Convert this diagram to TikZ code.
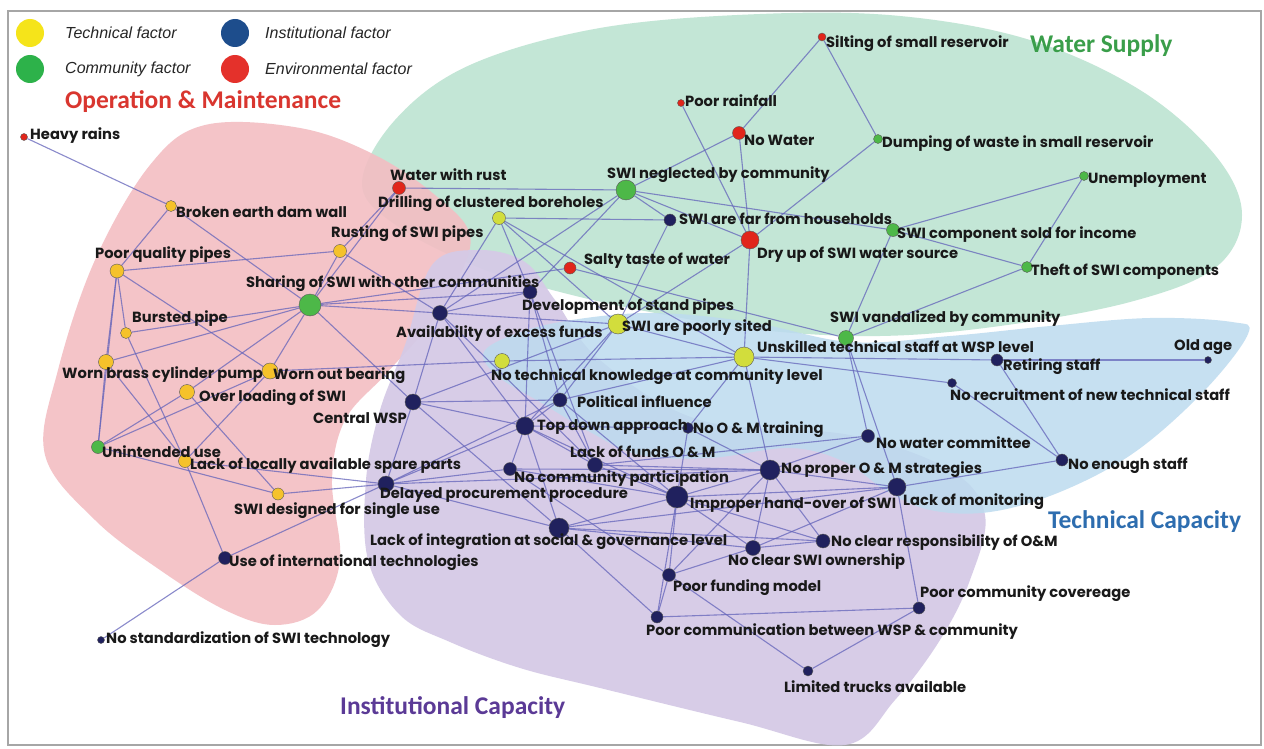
\documentclass[tikz,border=0pt]{standalone}
\usepackage{fontspec}
\setmainfont{Poppins}
\newfontfamily\legendfont{Liberation Sans}
\newfontfamily\titlefont{Carlito}
\definecolor{cyel}{HTML}{F5C22B}
\definecolor{clim}{HTML}{D2DD3C}
\definecolor{cgrn}{HTML}{4DB848}
\definecolor{cred}{HTML}{E1251B}
\definecolor{cnav}{HTML}{20215E}
\definecolor{cedge}{HTML}{6464BA}
\definecolor{rmint}{HTML}{C3E6D6}
\definecolor{rpink}{HTML}{F3BEC3}
\definecolor{rpurp}{HTML}{D5CAE6}
\definecolor{rblue}{HTML}{BDDBEF}
\definecolor{lyel}{HTML}{F5E41A}
\definecolor{lgrn}{HTML}{2DB24A}
\definecolor{lblu}{HTML}{1D4D8C}
\definecolor{lred}{HTML}{E4312B}
\definecolor{tred}{HTML}{D9362F}
\definecolor{tgrn}{HTML}{3A9E4A}
\definecolor{tblu}{HTML}{2D6DAF}
\definecolor{tpur}{HTML}{5B3A96}
\pgfdeclarelayer{bglayer}
\pgfdeclarelayer{edgelayer}
\pgfsetlayers{bglayer,edgelayer,main}
\tikzset{
  nd/.style={circle,inner sep=0pt,draw=black!65,line width=0.4pt},
  lbl/.style={anchor=west,inner sep=0pt,font=\fontsize{14.7}{15}\selectfont\bfseries,text=black!90},
  edge/.style={draw=cedge,line width=1.1pt,opacity=0.75},
  leg/.style={anchor=west,inner sep=0pt,font=\legendfont\itshape\fontsize{16}{18}\selectfont,text=black!85},
  ttl/.style={anchor=west,inner sep=0pt,font=\titlefont\bfseries\fontsize{25.5}{28}\selectfont},
  legdot/.style={circle,inner sep=0pt,minimum size=28pt}
}
\begin{document}
\begin{tikzpicture}[x=1pt,y=-1pt]
\useasboundingbox (0,0) rectangle (1264,749);
\begin{pgfonlayer}{bglayer}
\fill[white] (0,0) rectangle (1264,749);
\draw[gray!70,line width=1.2pt] (8,11) rectangle (1261,745);
\fill[rmint] plot[smooth cycle,tension=0.6] coordinates {(362,185) (395,120) (470,65) (600,28) (760,14) (900,16) (1030,40) (1140,90) (1215,155) (1242,215) (1215,268) (1130,302) (1000,326) (880,336) (760,330) (650,312) (560,292) (480,268) (400,228)};
\fill[rpink,opacity=0.9] plot[smooth cycle,tension=0.6] coordinates {(45,455) (58,370) (95,260) (150,165) (205,125) (300,128) (375,155) (435,195) (470,235) (455,285) (425,330) (385,375) (345,420) (332,480) (340,560) (318,610) (275,625) (225,610) (160,570) (95,520)};
\fill[rpurp,opacity=0.95] plot[smooth cycle,tension=0.6] coordinates {(432,265) (478,250) (525,262) (555,300) (600,360) (700,420) (850,435) (950,470) (985,515) (970,580) (940,640) (895,700) (845,745) (740,722) (600,688) (520,668) (450,642) (400,615) (368,560) (366,480) (380,410) (405,345)};
\fill[rblue,opacity=0.85] plot[smooth cycle,tension=0.6] coordinates {(483,355) (505,338) (560,322) (650,313) (750,322) (850,342) (950,336) (1050,326) (1150,318) (1232,322) (1248,334) (1205,390) (1135,452) (1060,492) (990,512) (930,510) (885,490) (845,462) (790,448) (710,458) (640,455) (590,432) (540,402) (500,378)};
\end{pgfonlayer}
% legend
\node[legdot,fill=lyel] (ly) at (30,33) {};
\node[leg] (lyt) at (65,33) {Technical factor};
\node[legdot,fill=lgrn] (lg) at (30,69) {};
\node[leg] (lgt) at (65,69) {Community factor};
\node[legdot,fill=lblu] (lb) at (235,33) {};
\node[leg] (lbt) at (265,33) {Institutional factor};
\node[legdot,fill=lred] (lr) at (235,69) {};
\node[leg] (lrt) at (265,69) {Environmental factor};
% titles
\node[ttl,text=tred] (t1) at (65,102) {Operation \& Maintenance};
\node[ttl,text=tgrn] (t2) at (1030,46) {Water Supply};
\node[ttl,text=tblu] (t3) at (1048,522) {Technical Capacity};
\node[ttl,text=tpur] (t4) at (340,708) {Institutional Capacity};
% nodes
\node[nd,fill=cred,minimum size=7pt] (hr) at (24,137) {};
\node[nd,fill=cyel,minimum size=11pt] (bdw) at (171,206) {};
\node[nd,fill=cred,minimum size=13pt] (wwr) at (399,188) {};
\node[nd,fill=clim,minimum size=13pt] (dcb) at (499,218) {};
\node[nd,fill=cgrn,minimum size=20pt] (snc) at (626,190) {};
\node[nd,fill=cnav,minimum size=12pt] (sfh) at (670,220) {};
\node[nd,fill=cred,minimum size=18pt] (dry) at (750,240) {};
\node[nd,fill=cred,minimum size=13pt] (nw) at (739,133) {};
\node[nd,fill=cred,minimum size=7pt] (pr) at (681,103) {};
\node[nd,fill=cred,minimum size=8pt] (sil) at (822,37) {};
\node[nd,fill=cgrn,minimum size=9pt] (dmp) at (878,139) {};
\node[nd,fill=cgrn,minimum size=9pt] (une) at (1084,176) {};
\node[nd,fill=cgrn,minimum size=13pt] (scs) at (893,230) {};
\node[nd,fill=cgrn,minimum size=11pt] (tft) at (1027,267) {};
\node[nd,fill=cgrn,minimum size=15pt] (svc) at (846,338) {};
\node[nd,fill=clim,minimum size=20pt] (uts) at (744,357) {};
\node[nd,fill=cnav,minimum size=12pt] (ret) at (997,360) {};
\node[nd,fill=cnav,minimum size=7pt] (old) at (1208,360) {};
\node[nd,fill=cnav,minimum size=9pt] (nrc) at (952,383) {};
\node[nd,fill=cnav,minimum size=13pt] (nwc) at (868,436) {};
\node[nd,fill=cnav,minimum size=12pt] (nes) at (1062,460) {};
\node[nd,fill=cnav,minimum size=11pt] (nom) at (688,428) {};
\node[nd,fill=cnav,minimum size=14pt] (pin) at (560,400) {};
\node[nd,fill=cnav,minimum size=18pt] (tda) at (525,426) {};
\node[nd,fill=cnav,minimum size=15pt] (lfo) at (595,465) {};
\node[nd,fill=cnav,minimum size=13pt] (ncp) at (510,469) {};
\node[nd,fill=cnav,minimum size=20pt] (nps) at (770,470) {};
\node[nd,fill=cnav,minimum size=22pt] (iho) at (677,497) {};
\node[nd,fill=cnav,minimum size=18pt] (lmo) at (897,487) {};
\node[nd,fill=cnav,minimum size=16pt] (dpp) at (386,484) {};
\node[nd,fill=cnav,minimum size=20pt] (lig) at (559,528) {};
\node[nd,fill=cnav,minimum size=15pt] (cso) at (753,548) {};
\node[nd,fill=cnav,minimum size=14pt] (cro) at (823,541) {};
\node[nd,fill=cnav,minimum size=13pt] (pfm) at (669,575) {};
\node[nd,fill=cnav,minimum size=12pt] (pcw) at (657,617) {};
\node[nd,fill=cnav,minimum size=12pt] (pcc) at (919,608) {};
\node[nd,fill=cnav,minimum size=10pt] (ltr) at (808,671) {};
\node[nd,fill=cnav,minimum size=13pt] (uit) at (225,558) {};
\node[nd,fill=cnav,minimum size=7pt] (nst) at (101,640) {};
\node[nd,fill=cyel,minimum size=12pt] (sds) at (278,494) {};
\node[nd,fill=cyel,minimum size=13pt] (lsp) at (185,461) {};
\node[nd,fill=cgrn,minimum size=13pt] (uu) at (98,447) {};
\node[nd,fill=cyel,minimum size=15pt] (ol) at (187,392) {};
\node[nd,fill=cyel,minimum size=15pt] (wbc) at (106,362) {};
\node[nd,fill=cyel,minimum size=16pt] (wob) at (270,371) {};
\node[nd,fill=cyel,minimum size=11pt] (bp) at (126,333) {};
\node[nd,fill=cyel,minimum size=14pt] (pqp) at (117,271) {};
\node[nd,fill=cgrn,minimum size=22pt] (sh) at (310,305) {};
\node[nd,fill=cyel,minimum size=13pt] (rsp) at (340,251) {};
\node[nd,fill=cnav,minimum size=15pt] (aef) at (440,313) {};
\node[nd,fill=cnav,minimum size=14pt] (dsp) at (530,292) {};
\node[nd,fill=clim,minimum size=20pt] (psi) at (618,324) {};
\node[nd,fill=clim,minimum size=15pt] (ntk) at (502,361) {};
\node[nd,fill=cred,minimum size=12pt] (stw) at (570,268) {};
\node[nd,fill=cnav,minimum size=16pt] (cws) at (413,402) {};
% edges
\begin{pgfonlayer}{edgelayer}
\foreach \a/\b in {hr/bdw,bdw/pqp,bdw/sh,wwr/rsp,wwr/sh,wwr/snc,
 pqp/rsp,pqp/wbc,pqp/bp,pqp/wob,pqp/uu,bp/sh,bp/lsp,
 wbc/sh,wbc/lsp,wbc/uu,wob/sh,wob/uu,wob/lsp,wob/ntk,
 ol/sh,ol/uu,ol/sds,uu/sds,lsp/uit,lsp/dpp,sds/dpp,uit/dpp,uit/nst,
 sh/cws,sh/aef,sh/dsp,sh/stw,sh/rsp,rsp/aef,
 dcb/sfh,dcb/aef,dcb/dsp,dcb/psi,dcb/uts,
 snc/nw,snc/sfh,snc/scs,snc/dry,snc/dsp,snc/aef,sfh/psi,
 pr/dry,nw/dry,nw/sil,sil/dmp,dmp/dry,dry/uts,dry/psi,
 stw/svc,scs/une,scs/tft,scs/svc,une/tft,tft/svc,svc/nwc,svc/lmo,
 uts/ntk,uts/ret,ret/old,uts/nrc,uts/nom,uts/nps,uts/pin,uts/psi,
 ret/nes,nrc/nes,nes/lmo,nwc/nps,nwc/lfo,
 nps/iho,nps/cso,nps/cro,nps/ncp,nps/lfo,nps/pfm,nps/dpp,nps/nom,
 iho/lig,iho/pfm,iho/pcw,iho/ncp,iho/lfo,iho/lmo,iho/cro,iho/cso,iho/nom,iho/pin,iho/tda,
 lmo/pcc,lmo/cso,lmo/lig,lmo/nps,pcc/pcw,pcc/ltr,
 pfm/ltr,pfm/pcw,pfm/cso,pfm/ncp,
 lig/pcw,lig/cso,lig/cro,lig/tda,lig/cws,lig/dpp,
 dpp/tda,dpp/pin,dpp/ncp,dpp/cws,cws/pin,cws/tda,cws/aef,
 tda/pin,tda/ncp,tda/lfo,tda/nom,tda/aef,tda/dsp,
 pin/psi,pin/lfo,dsp/pin,aef/dsp,aef/psi,aef/lfo,psi/cws,psi/tda,dsp/lfo,cso/cro}
 \draw[edge] (\a) -- (\b);
\end{pgfonlayer}
% labels
\node[lbl] (hr-t) at (30,136) {Heavy rains};
\node[lbl] (bdw-t) at (176,212) {Broken earth dam wall};
\node[lbl] (wwr-t) at (390,175) {Water with rust};
\node[lbl] (dcb-t) at (378,204) {Drilling of clustered boreholes};
\node[lbl] (snc-t) at (607,175) {SWI neglected by community};
\node[lbl] (sfh-t) at (679,219) {SWI are far from households};
\node[lbl] (dry-t) at (757,255) {Dry up of SWI water source};
\node[lbl] (nw-t) at (744,140) {No Water};
\node[lbl] (pr-t) at (685,101) {Poor rainfall};
\node[lbl] (sil-t) at (826,44) {Silting of small reservoir};
\node[lbl] (dmp-t) at (882,144) {Dumping of waste in small reservoir};
\node[lbl] (une-t) at (1088,180) {Unemployment};
\node[lbl] (scs-t) at (897,235) {SWI component sold for income};
\node[lbl] (tft-t) at (1031,272) {Theft of SWI components};
\node[lbl] (svc-t) at (830,319) {SWI vandalized by community};
\node[lbl] (uts-t) at (757,347) {Unskilled technical staff at WSP level};
\node[lbl] (ret-t) at (1003,367) {Retiring staff};
\node[lbl] (old-t) at (1174,347) {Old age};
\node[lbl] (nrc-t) at (950,395) {No recruitment of new technical staff};
\node[lbl] (nwc-t) at (876,443) {No water committee};
\node[lbl] (nes-t) at (1068,466) {No enough staff};
\node[lbl] (nom-t) at (693,430) {No O \& M training};
\node[lbl] (pin-t) at (577,402) {Political influence};
\node[lbl] (tda-t) at (537,427) {Top down approach};
\node[lbl] (lfo-t) at (570,452) {Lack of funds O \& M};
\node[lbl] (ncp-t) at (514,479) {No community participation};
\node[lbl] (nps-t) at (781,470) {No proper O \& M strategies};
\node[lbl] (iho-t) at (690,505) {Improper hand-over of SWI};
\node[lbl] (lmo-t) at (903,502) {Lack of monitoring};
\node[lbl] (dpp-t) at (380,495) {Delayed procurement procedure};
\node[lbl] (lig-t) at (370,542) {Lack of integration at social \& governance level};
\node[lbl] (cso-t) at (728,562) {No clear SWI ownership};
\node[lbl] (cro-t) at (831,543) {No clear responsibility of O\&M};
\node[lbl] (pfm-t) at (673,588) {Poor funding model};
\node[lbl] (pcw-t) at (646,632) {Poor communication between WSP \& community};
\node[lbl] (pcc-t) at (920,594) {Poor community covereage};
\node[lbl] (ltr-t) at (784,687) {Limited trucks available};
\node[lbl] (uit-t) at (229,563) {Use of international technologies};
\node[lbl] (nst-t) at (106,640) {No standardization of SWI technology};
\node[lbl] (sds-t) at (234,511) {SWI designed for single use};
\node[lbl] (lsp-t) at (190,466) {Lack of locally available spare parts};
\node[lbl] (uu-t) at (102,452) {Unintended use};
\node[lbl] (ol-t) at (199,398) {Over loading of SWI};
\node[lbl] (wbc-t) at (62,375) {Worn brass cylinder pump};
\node[lbl] (wob-t) at (273,376) {Worn out bearing};
\node[lbl] (bp-t) at (132,319) {Bursted pipe};
\node[lbl] (pqp-t) at (95,255) {Poor quality pipes};
\node[lbl] (sh-t) at (246,284) {Sharing of SWI with other communities};
\node[lbl] (rsp-t) at (331,234) {Rusting of SWI pipes};
\node[lbl] (aef-t) at (396,334) {Availability of excess funds};
\node[lbl] (dsp-t) at (522,307) {Development of stand pipes};
\node[lbl] (psi-t) at (622,328) {SWI are poorly sited};
\node[lbl] (ntk-t) at (491,377) {No technical knowledge at community level};
\node[lbl] (stw-t) at (584,261) {Salty taste of water};
\node[lbl] (cws-t) at (313,418) {Central WSP};
\end{tikzpicture}
\end{document}
